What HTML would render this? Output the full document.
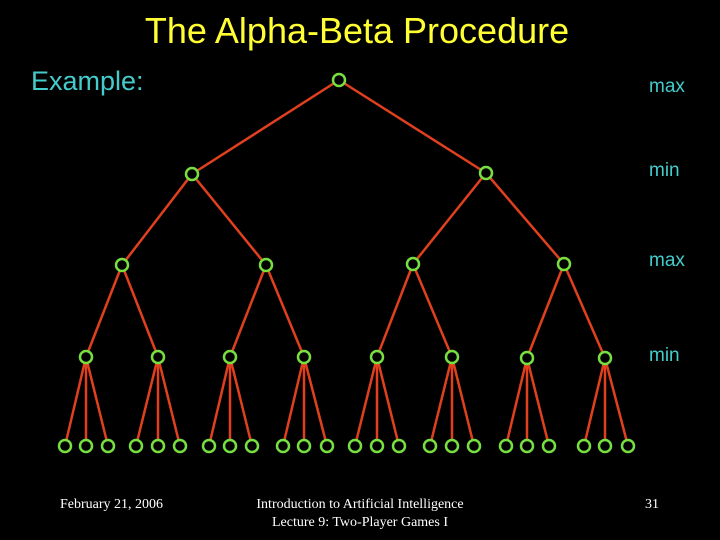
<!DOCTYPE html>
<html><head><style>
html,body{margin:0;padding:0;background:#000;}
svg{display:block;}
</style></head><body>
<svg width="720" height="540" viewBox="0 0 720 540" xmlns="http://www.w3.org/2000/svg">
<rect width="720" height="540" fill="#000"/>
<text x="357" y="43" text-anchor="middle" font-family="Liberation Sans, sans-serif" font-size="36" fill="#ffff33">The Alpha-Beta Procedure</text>
<text x="31" y="90" font-family="Liberation Sans, sans-serif" font-size="27" fill="#44cccc">Example:</text>
<g font-family="Liberation Sans, sans-serif" font-size="19" fill="#44cccc">
<text x="649" y="92">max</text>
<text x="649" y="176">min</text>
<text x="649" y="266">max</text>
<text x="649" y="361">min</text>
</g>
<g stroke="#e0401e" stroke-width="2.5" fill="none">
<line x1="339" y1="80" x2="192" y2="174"/>
<line x1="339" y1="80" x2="486" y2="173"/>
<line x1="192" y1="174" x2="122" y2="265"/>
<line x1="192" y1="174" x2="266" y2="265"/>
<line x1="486" y1="173" x2="413" y2="264"/>
<line x1="486" y1="173" x2="564" y2="264"/>
<line x1="122" y1="265" x2="86" y2="357"/>
<line x1="122" y1="265" x2="158" y2="357"/>
<line x1="266" y1="265" x2="230" y2="357"/>
<line x1="266" y1="265" x2="304" y2="357"/>
<line x1="413" y1="264" x2="377" y2="357"/>
<line x1="413" y1="264" x2="452" y2="357"/>
<line x1="564" y1="264" x2="527" y2="358"/>
<line x1="564" y1="264" x2="605" y2="358"/>
<line x1="86" y1="357" x2="65" y2="446"/><line x1="86" y1="357" x2="86" y2="446"/><line x1="86" y1="357" x2="108" y2="446"/>
<line x1="158" y1="357" x2="136" y2="446"/><line x1="158" y1="357" x2="158" y2="446"/><line x1="158" y1="357" x2="180" y2="446"/>
<line x1="230" y1="357" x2="209" y2="446"/><line x1="230" y1="357" x2="230" y2="446"/><line x1="230" y1="357" x2="252" y2="446"/>
<line x1="304" y1="357" x2="283" y2="446"/><line x1="304" y1="357" x2="304" y2="446"/><line x1="304" y1="357" x2="327" y2="446"/>
<line x1="377" y1="357" x2="355" y2="446"/><line x1="377" y1="357" x2="377" y2="446"/><line x1="377" y1="357" x2="399" y2="446"/>
<line x1="452" y1="357" x2="430" y2="446"/><line x1="452" y1="357" x2="452" y2="446"/><line x1="452" y1="357" x2="474" y2="446"/>
<line x1="527" y1="358" x2="506" y2="446"/><line x1="527" y1="358" x2="527" y2="446"/><line x1="527" y1="358" x2="549" y2="446"/>
<line x1="605" y1="358" x2="584" y2="446"/><line x1="605" y1="358" x2="605" y2="446"/><line x1="605" y1="358" x2="628" y2="446"/>
</g>
<g stroke="#77e040" stroke-width="2.5" fill="#000">
<circle cx="339" cy="80" r="6"/>
<circle cx="192" cy="174" r="6"/><circle cx="486" cy="173" r="6"/>
<circle cx="122" cy="265" r="6"/><circle cx="266" cy="265" r="6"/><circle cx="413" cy="264" r="6"/><circle cx="564" cy="264" r="6"/>
<circle cx="86" cy="357" r="6"/><circle cx="158" cy="357" r="6"/><circle cx="230" cy="357" r="6"/><circle cx="304" cy="357" r="6"/>
<circle cx="377" cy="357" r="6"/><circle cx="452" cy="357" r="6"/><circle cx="527" cy="358" r="6"/><circle cx="605" cy="358" r="6"/>
<circle cx="65" cy="446" r="6"/><circle cx="86" cy="446" r="6"/><circle cx="108" cy="446" r="6"/>
<circle cx="136" cy="446" r="6"/><circle cx="158" cy="446" r="6"/><circle cx="180" cy="446" r="6"/>
<circle cx="209" cy="446" r="6"/><circle cx="230" cy="446" r="6"/><circle cx="252" cy="446" r="6"/>
<circle cx="283" cy="446" r="6"/><circle cx="304" cy="446" r="6"/><circle cx="327" cy="446" r="6"/>
<circle cx="355" cy="446" r="6"/><circle cx="377" cy="446" r="6"/><circle cx="399" cy="446" r="6"/>
<circle cx="430" cy="446" r="6"/><circle cx="452" cy="446" r="6"/><circle cx="474" cy="446" r="6"/>
<circle cx="506" cy="446" r="6"/><circle cx="527" cy="446" r="6"/><circle cx="549" cy="446" r="6"/>
<circle cx="584" cy="446" r="6"/><circle cx="605" cy="446" r="6"/><circle cx="628" cy="446" r="6"/>
</g>
<g font-family="Liberation Serif, serif" font-size="14" fill="#fff">
<text x="60" y="508">February 21, 2006</text>
<text x="360" y="508" text-anchor="middle">Introduction to Artificial Intelligence</text>
<text x="360" y="526" text-anchor="middle">Lecture 9: Two-Player Games I</text>
<text x="645" y="508">31</text>
</g>
</svg>
</body></html>
